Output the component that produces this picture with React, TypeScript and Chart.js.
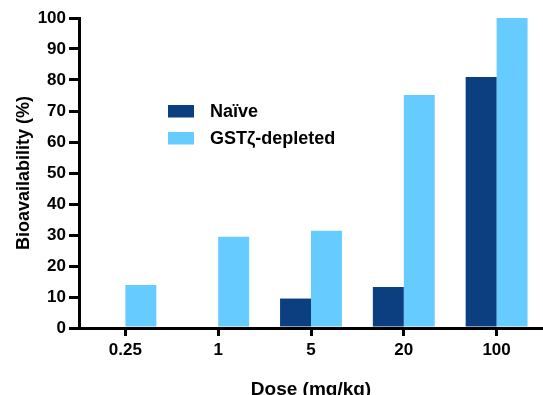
import React, { useEffect, useRef } from "react";
import { Chart, registerables } from "chart.js";

Chart.register(...registerables);

const doses = ["0.25", "1", "5", "20", "100"];
const naive = [0, 0, 9.5, 13.2, 81];
const gstDepleted = [13.9, 29.4, 31.4, 75.2, 100];
const yTicks = [0, 10, 20, 30, 40, 50, 60, 70, 80, 90, 100];
const seriesNames = ["Naïve", "GSTζ-depleted"];
const seriesColors = ["#0B3F7F", "#66CCFF"];

const FONT = "'Liberation Sans', Arial, Helvetica, sans-serif";

// Boxed legend drawn inside the plot area, left of centre
const insetLegend = {
  id: "insetLegend",
  afterDraw(chart: any) {
    const { ctx } = chart;
    ctx.save();
    ctx.font = `bold 18px ${FONT}`;
    ctx.textBaseline = "middle";
    ctx.textAlign = "left";
    seriesNames.forEach((name, i) => {
      const y = 105 + i * 27;
      ctx.fillStyle = seriesColors[i];
      ctx.fillRect(168, y, 26, 12.5);
      ctx.fillStyle = "#000";
      ctx.fillText(name, 210, y + 7);
    });
    ctx.restore();
  },
};

export default function App() {
  const canvasRef = useRef<HTMLCanvasElement>(null);

  useEffect(() => {
    if (!canvasRef.current) return;
    const chart = new Chart(canvasRef.current, {
      type: "bar",
      data: {
        labels: doses,
        datasets: seriesNames.map((name, i) => ({
          label: name,
          data: i === 0 ? naive : gstDepleted,
          backgroundColor: seriesColors[i],
          borderWidth: 0,
          categoryPercentage: 0.667,
          barPercentage: 1,
        })),
      },
      options: {
        responsive: false,
        animation: false,
        layout: { padding: { top: 18, right: 0, bottom: 0, left: 0 } },
        plugins: {
          legend: { display: false },
          tooltip: { enabled: false },
        },
        scales: {
          x: {
            z: 1,
            offset: true,
            grid: {
              offset: false,
              drawOnChartArea: false,
              drawTicks: true,
              tickLength: 8,
              lineWidth: 3,
              color: "#000",
            },
            border: { display: true, width: 3, color: "#000" },
            ticks: {
              color: "#000",
              padding: 4,
              font: { family: FONT, size: 17, weight: "bold" },
            },
            title: {
              display: true,
              text: "Dose (mg/kg)",
              color: "#000",
              font: { family: FONT, size: 19, weight: "bold" },
              padding: { top: 0, bottom: -6 },
            },
            afterFit(scale: any) {
              scale.height = 67;
            },
          },
          y: {
            z: 1,
            min: 0,
            max: 100,
            afterBuildTicks(scale: any) {
              scale.ticks = yTicks.map((v) => ({ value: v }));
            },
            grid: {
              drawOnChartArea: false,
              drawTicks: true,
              tickLength: 10,
              lineWidth: 3,
              color: "#000",
            },
            border: { display: true, width: 3, color: "#000" },
            ticks: {
              color: "#000",
              padding: 3,
              font: { family: FONT, size: 17, weight: "bold" },
            },
            title: {
              display: true,
              text: "Bioavailability (%)",
              color: "#000",
              font: { family: FONT, size: 18, weight: "bold" },
              padding: { top: 13, bottom: 0 },
            },
            afterFit(scale: any) {
              scale.width = 79;
            },
          },
        },
      },
      plugins: [insetLegend],
    });
    return () => chart.destroy();
  }, []);

  return (
    <div style={{ position: "fixed", left: 0, top: 0, width: 543, height: 395, background: "#fff" }}>
      <canvas ref={canvasRef} width={543} height={395} style={{ display: "block" }} />
    </div>
  );
}
